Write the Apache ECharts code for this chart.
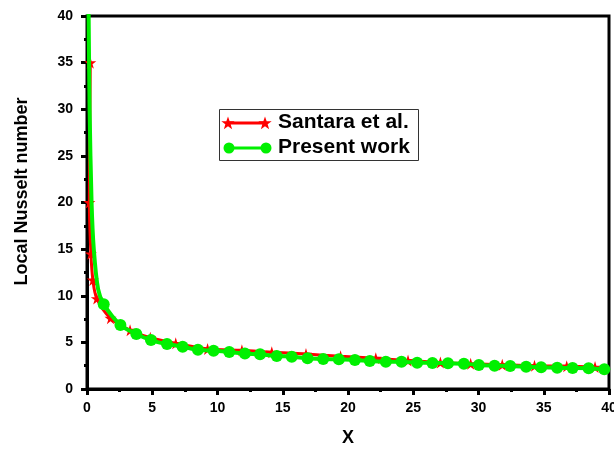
<!DOCTYPE html>
<html>
<head>
<meta charset="utf-8">
<script src="https://cdn.jsdelivr.net/npm/echarts@6/dist/echarts.min.js"></script>
<style>html,body{margin:0;padding:0;background:#fff}#c{width:614px;height:450px}</style>
</head>
<body>
<div id="c"></div>
<script>
var seriesNames = ['Santara et al.', 'Present work'];
var xTicks = [0, 5, 10, 15, 20, 25, 30, 35, 40];
var yTicks = [0, 5, 10, 15, 20, 25, 30, 35, 40];
var santaraX = [0.25, 0.18, 0.3, 0.45, 0.75, 1.8, 3.3, 4.85, 6.8, 9.24, 11.87, 14.16, 16.78, 19.43, 22.13, 24.6, 27.08, 29.4, 31.82, 34.29, 36.76, 38.93];
var santaraY = [35, 20, 14.5, 11.7, 9.7, 7.6, 6.3, 5.5, 4.9, 4.3, 4.15, 3.95, 3.75, 3.5, 3.3, 3.05, 2.85, 2.7, 2.6, 2.5, 2.45, 2.35];
var presentLeadX = [0.12, 0.2, 0.35, 0.52, 0.85];
var presentLeadY = [41, 30, 20, 15, 10.7];
var presentX = [1.28, 2.56, 3.78, 4.9, 6.13, 7.33, 8.5, 9.7, 10.9, 12.1, 13.26, 14.54, 15.69, 16.9, 18.1, 19.3, 20.53, 21.67, 22.9, 24.1, 25.3, 26.47, 27.66, 28.88, 30.03, 31.23, 32.43, 33.65, 34.8, 36.03, 37.21, 38.44, 39.64];
var presentY = [9.1, 6.86, 5.9, 5.25, 4.82, 4.54, 4.2, 4.1, 3.97, 3.8, 3.72, 3.54, 3.46, 3.29, 3.22, 3.18, 3.11, 3.0, 2.93, 2.92, 2.82, 2.8, 2.75, 2.72, 2.57, 2.5, 2.47, 2.39, 2.32, 2.28, 2.25, 2.22, 2.11];

var STAR = 'path://M50,0 L61,35 L98,35 L68,57 L79,91 L50,70 L21,91 L32,57 L2,35 L39,35 Z';
var FONT = 'Liberation Sans, Arial, sans-serif';
var GREEN = '#00f000';
var RED = '#ff0000';

var redData = santaraX.map(function (x, i) { return [x, santaraY[i]]; });
var greenData = presentLeadX.map(function (x, i) { return { value: [x, presentLeadY[i]], symbol: 'none' }; })
  .concat(presentX.map(function (x, i) { return [x, presentY[i]]; }));

function starPoints(cx, cy, r) {
  var pts = [];
  for (var i = 0; i < 10; i++) {
    var rr = i % 2 === 0 ? r : r * 0.4;
    var a = -Math.PI / 2 + i * Math.PI / 5;
    pts.push([cx + rr * Math.cos(a), cy + rr * Math.sin(a)]);
  }
  return pts;
}

var chart = echarts.init(document.getElementById('c'), null, { renderer: 'canvas' });
chart.setOption({
  animation: false,
  backgroundColor: '#fff',
  grid: { left: 87, right: 5, top: 16, bottom: 61, containLabel: false, outerBoundsMode: 'none', show: true, borderColor: '#000', borderWidth: 3, backgroundColor: 'transparent' },
  xAxis: {
    type: 'value', min: xTicks[0], max: xTicks[xTicks.length - 1], interval: 5,
    name: 'X', nameLocation: 'middle', nameGap: 40,
    nameTextStyle: { fontFamily: FONT, fontWeight: 'bold', fontSize: 18, color: '#000' },
    axisLine: { lineStyle: { color: '#000', width: 3 } },
    axisTick: { show: true, inside: false, length: 6, lineStyle: { color: '#000', width: 3 } },
    minorTick: { show: true, splitNumber: 2, length: 3, lineStyle: { color: '#000', width: 3 } },
    splitLine: { show: false },
    axisLabel: { margin: 12, fontFamily: FONT, fontWeight: 'bold', fontSize: 14, color: '#000', hideOverlap: false }
  },
  yAxis: {
    type: 'value', min: yTicks[0], max: yTicks[yTicks.length - 1], interval: 5,
    name: 'Local Nusselt number', nameLocation: 'middle', nameGap: 56,
    nameTextStyle: { fontFamily: FONT, fontWeight: 'bold', fontSize: 18, color: '#000', padding: [0, 0, 0, 22] },
    axisLine: { lineStyle: { color: '#000', width: 3 } },
    axisTick: { show: true, inside: false, length: 6, lineStyle: { color: '#000', width: 3 } },
    minorTick: { show: true, splitNumber: 2, length: 3, lineStyle: { color: '#000', width: 3 } },
    splitLine: { show: false },
    axisLabel: { margin: 14, fontFamily: FONT, fontWeight: 'bold', fontSize: 14, color: '#000' }
  },
  series: [
    {
      name: seriesNames[0], type: 'line', data: redData, smooth: 0.3,
      symbol: STAR, symbolSize: 12, clip: true,
      lineStyle: { color: RED, width: 3 }, itemStyle: { color: RED }, z: 2
    },
    {
      name: seriesNames[1], type: 'line', data: greenData, smooth: 0.3,
      symbol: 'circle', symbolSize: 12, clip: true,
      lineStyle: { color: GREEN, width: 4 }, itemStyle: { color: GREEN }, z: 3
    }
  ],
  graphic: [
    { type: 'rect', shape: { x: 219.5, y: 109.5, width: 199, height: 51 }, style: { fill: '#fff', stroke: '#333', lineWidth: 1 }, z: 10 },
    { type: 'line', shape: { x1: 228, y1: 123, x2: 265, y2: 123 }, style: { stroke: RED, lineWidth: 3 }, z: 11 },
    { type: 'polygon', shape: { points: starPoints(228, 123.5, 7) }, style: { fill: RED }, z: 12 },
    { type: 'polygon', shape: { points: starPoints(265, 123.5, 7) }, style: { fill: RED }, z: 12 },
    { type: 'text', left: 278, top: 112, style: { text: seriesNames[0], fontFamily: FONT, fontWeight: 'bold', fontSize: 21, fill: '#000' }, z: 12 },
    { type: 'line', shape: { x1: 229, y1: 148, x2: 266, y2: 148 }, style: { stroke: GREEN, lineWidth: 3 }, z: 11 },
    { type: 'circle', shape: { cx: 229, cy: 148, r: 5.5 }, style: { fill: GREEN }, z: 12 },
    { type: 'circle', shape: { cx: 266, cy: 148, r: 5.5 }, style: { fill: GREEN }, z: 12 },
    { type: 'text', left: 278, top: 137, style: { text: seriesNames[1], fontFamily: FONT, fontWeight: 'bold', fontSize: 21, fill: '#000' }, z: 12 }
  ]
});
</script>
</body>
</html>
